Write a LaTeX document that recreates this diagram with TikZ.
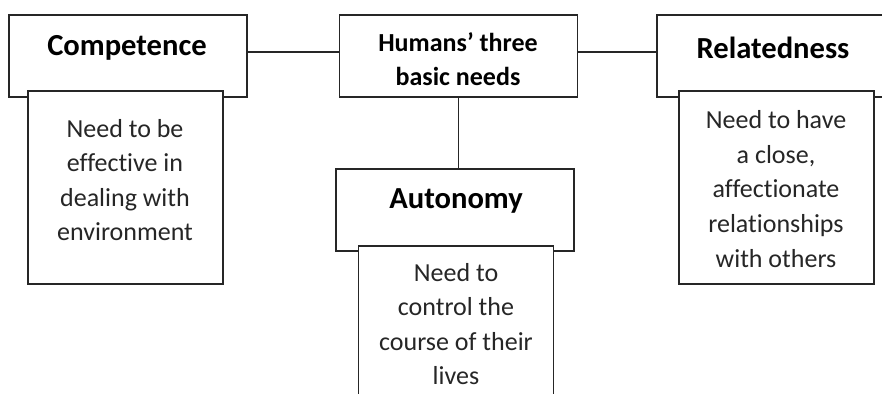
\documentclass[tikz,border=0pt]{standalone}
\usepackage{fontspec}
\setmainfont[Ligatures=NoCommon]{Carlito}
\begin{document}
\begin{tikzpicture}[x=0.5pt,y=-0.5pt,
  box/.style={draw=black!85,line width=0.9pt,fill=white,inner sep=0pt},
  head/.style={box,minimum width=119pt,minimum height=41pt},
  sub/.style={box,minimum width=97.5pt},
  headtxt/.style={font=\fontsize{15.3}{18}\selectfont\bfseries,inner sep=0pt},
  humtxt/.style={font=\fontsize{13}{17}\selectfont\bfseries,align=center,inner sep=0pt},
  subtxt/.style={font=\fontsize{13}{17.3}\selectfont,align=center,inner sep=0pt,text=black!85},
  link/.style={draw=black!85,line width=0.9pt}]
\useasboundingbox (0,0) rectangle (882,394);
% header boxes
\node[head] (comp) at (128,56) {};
\node[head] (hum) at (458.5,56) {};
\node[head] (aut) at (455,210) {};
\node[head] (rel) at (776,56) {};
% sub boxes
\node[sub,minimum height=96.5pt] (compsub) at (125.5,187.5) {};
\node[sub,minimum height=96.5pt] (relsub) at (776.5,187.5) {};
\node[sub,minimum height=97pt] (autsub) at (456,343) {};
% texts
\node[headtxt] (compT) at (127,48) {Competence};
\node[headtxt] (relT) at (773,48) {Relatedness};
\node[headtxt] (autT) at (456,201) {Autonomy};
\node[humtxt] (humT) at (458,59) {Humans’ three\\basic needs};
\node[subtxt] (compS) at (125,180) {Need to be\\effective in\\dealing with\\environment};
\node[subtxt] (relS) at (776,189) {Need to have\\a close,\\affectionate\\relationships\\with others};
\node[subtxt] (autS) at (456,324) {Need to\\control the\\course of their\\lives};
% connectors
\draw[link] ([yshift=2pt]comp.east) -- ([yshift=2pt]hum.west);
\draw[link] ([yshift=2pt]hum.east) -- ([yshift=2pt]rel.west);
\draw[link] (hum.south) -- (hum.south |- aut.north);
\end{tikzpicture}
\end{document}
